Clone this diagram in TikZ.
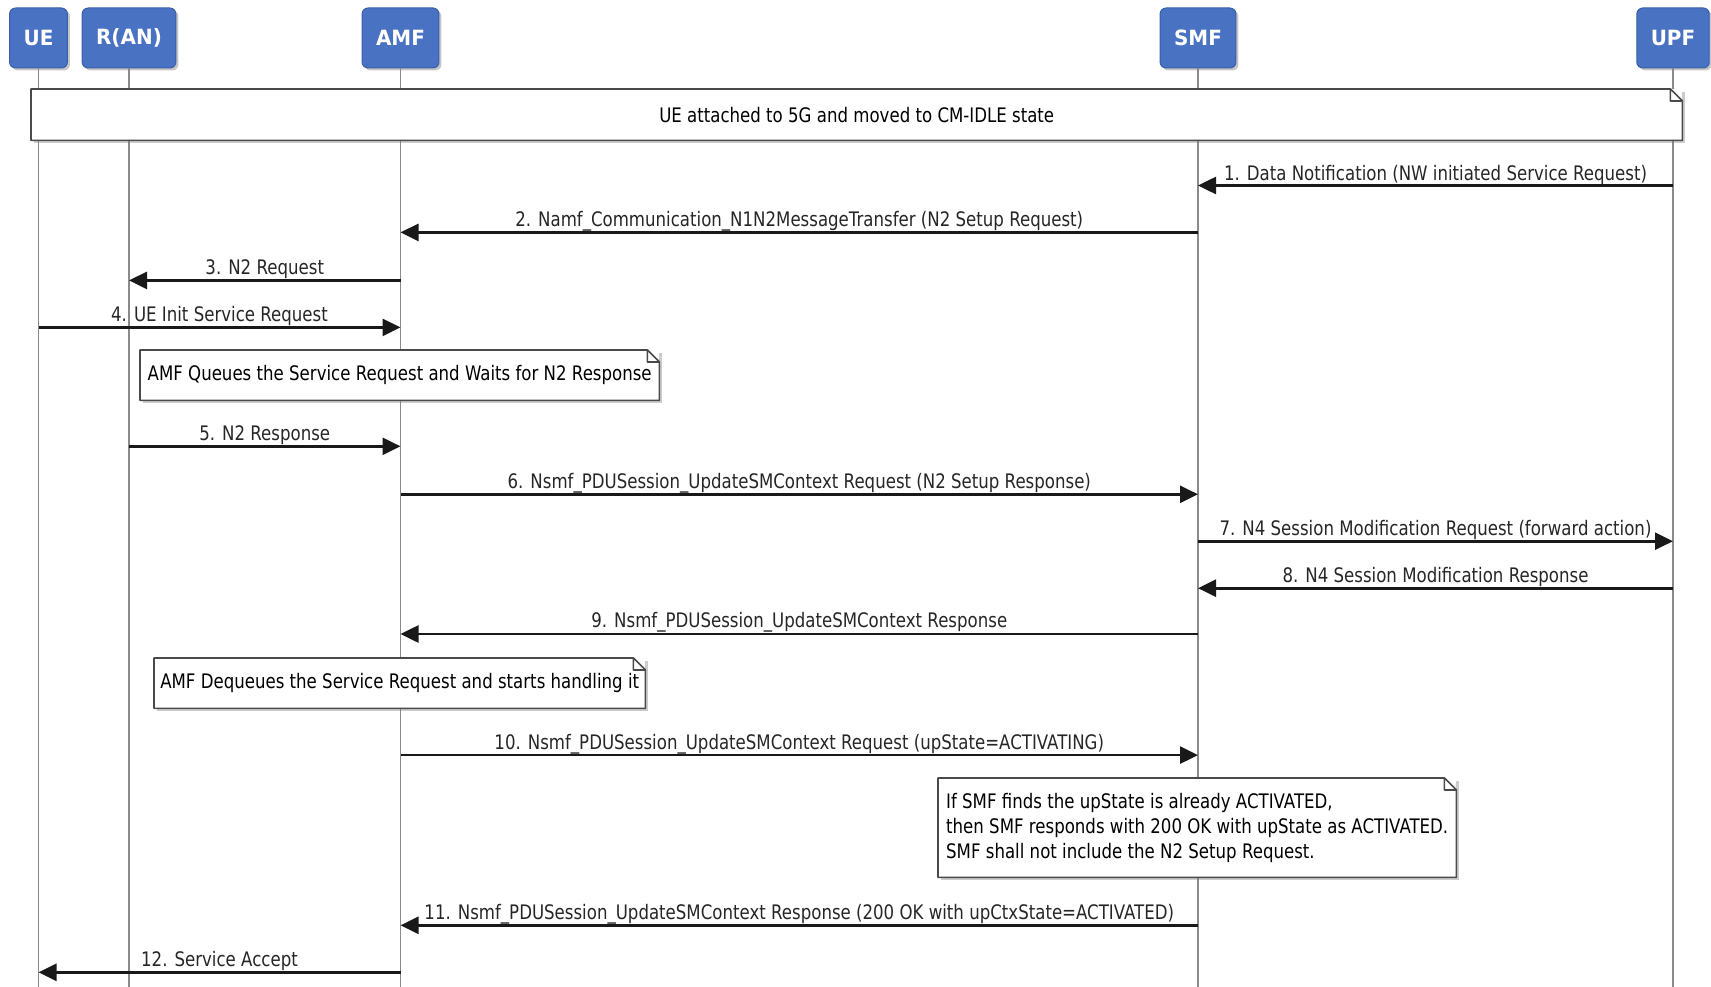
\documentclass[tikz,border=0pt]{standalone}
\usepackage{fontspec}
\setmainfont[FakeStretch=0.83]{DejaVu Sans}
\newfontfamily\actorfont[FakeStretch=0.95]{DejaVu Sans}
\usetikzlibrary{arrows.meta,positioning,shadows,calc}
\definecolor{actorblue}{HTML}{4A72C2}
\definecolor{actorrim}{HTML}{3A5FA8}
\definecolor{lifegray}{HTML}{8A8A8A}
\definecolor{notegray}{HTML}{4A4A4A}

\begin{document}
\begin{tikzpicture}[
  x=1pt, y=-1pt,
  font=\fontsize{20pt}{25pt}\selectfont,
  >={Triangle[length=18pt,width=17pt]},
  actor/.style={
    draw=actorrim,
    fill=actorblue,
    rounded corners=6pt,
    line width=1pt,
    minimum height=60pt,
    inner xsep=14pt,
    text=white,
    font=\actorfont\fontsize{21pt}{25pt}\selectfont\bfseries,
    drop shadow={shadow xshift=2.5pt, shadow yshift=-2.5pt, opacity=0.45}
  },
  lifeline/.style={
    draw=lifegray,
    line width=1.5pt
  },
  notebox/.style={
    fill=white,
    inner sep=0pt,
    anchor=north west,
    drop shadow={shadow xshift=2.5pt, shadow yshift=-2.5pt, opacity=0.4}
  },
  noteline/.style={
    draw=notegray,
    line width=1.6pt,
    line join=round
  },
  msg/.style={
    ->,
    line width=2.6pt,
    draw=black!90
  },
  msglabel/.style={
    above,
    inner sep=0pt,
    text=black!85
  }
]
  \useasboundingbox (0,0) rectangle (1711,987);

  % Participants
  \node[actor] (ue)  at (38.5,38)  {UE};
  \node[actor] (ran) at (129,38)   {R(AN)};
  \node[actor] (amf) at (400.5,38) {AMF};
  \node[actor] (smf) at (1198,38)  {SMF};
  \node[actor] (upf) at (1673,38)  {UPF};

  % Lifelines
  \coordinate (bottom) at (0,987);
  \foreach \p in {ue,ran,amf,smf,upf}
    \draw[lifeline] (\p.south) -- (\p.south |- bottom);

  % Notes
  \node[notebox, minimum width=1651, minimum height=51] (n0) at (31,89)
    {UE attached to 5G and moved to CM-IDLE state};
  \node[notebox, minimum width=519, minimum height=50] (n1) at (140,350)
    {AMF Queues the Service Request and Waits for N2 Response};
  \node[notebox, minimum width=491, minimum height=50] (n2) at (154,658)
    {AMF Dequeues the Service Request and starts handling it};
  \node[notebox, minimum width=518, minimum height=99, align=left] (n3) at (938,778)
    {If SMF finds the upState is already ACTIVATED,\\
     then SMF responds with 200 OK with upState as ACTIVATED.\\
     SMF shall not include the N2 Setup Request.};
  \foreach \n in {n0,n1,n2,n3}
    \draw[noteline] (\n.south west) -- (\n.north west) -- ([xshift=-12pt]\n.north east)
      -- ([yshift=-12pt]\n.north east) -- (\n.south east) -- cycle
      ([xshift=-12pt]\n.north east) |- ([yshift=-12pt]\n.north east);

  % Message rows
  \foreach \i/\y in {1/185.5, 2/232.4, 3/280.4, 4/327.4, 5/446.3, 6/494.3,
                     7/541.2, 8/588.2, 9/634, 10/755.1, 11/925.3, 12/972.3}
    \coordinate (m\i) at (0,\y);

  % Messages
  \draw[msg] (upf |- m1) -- node[msglabel] {1. Data Notification (NW initiated Service Request)} (smf |- m1);
  \draw[msg] (smf |- m2) -- node[msglabel] {2. Namf\_Communication\_N1N2MessageTransfer (N2 Setup Request)} (amf |- m2);
  \draw[msg] (amf |- m3) -- node[msglabel] {3. N2 Request} (ran |- m3);
  \draw[msg] (ue |- m4) -- node[msglabel] {4. UE Init Service Request} (amf |- m4);
  \draw[msg] (ran |- m5) -- node[msglabel] {5. N2 Response} (amf |- m5);
  \draw[msg] (amf |- m6) -- node[msglabel] {6. Nsmf\_PDUSession\_UpdateSMContext Request (N2 Setup Response)} (smf |- m6);
  \draw[msg] (smf |- m7) -- node[msglabel] {7. N4 Session Modification Request (forward action)} (upf |- m7);
  \draw[msg] (upf |- m8) -- node[msglabel] {8. N4 Session Modification Response} (smf |- m8);
  \draw[msg] (smf |- m9) -- node[msglabel] {9. Nsmf\_PDUSession\_UpdateSMContext Response} (amf |- m9);
  \draw[msg] (amf |- m10) -- node[msglabel] {10. Nsmf\_PDUSession\_UpdateSMContext Request (upState=ACTIVATING)} (smf |- m10);
  \draw[msg] (smf |- m11) -- node[msglabel] {11. Nsmf\_PDUSession\_UpdateSMContext Response (200 OK with upCtxState=ACTIVATED)} (amf |- m11);
  \draw[msg] (amf |- m12) -- node[msglabel] {12. Service Accept} (ue |- m12);

\end{tikzpicture}
\end{document}
